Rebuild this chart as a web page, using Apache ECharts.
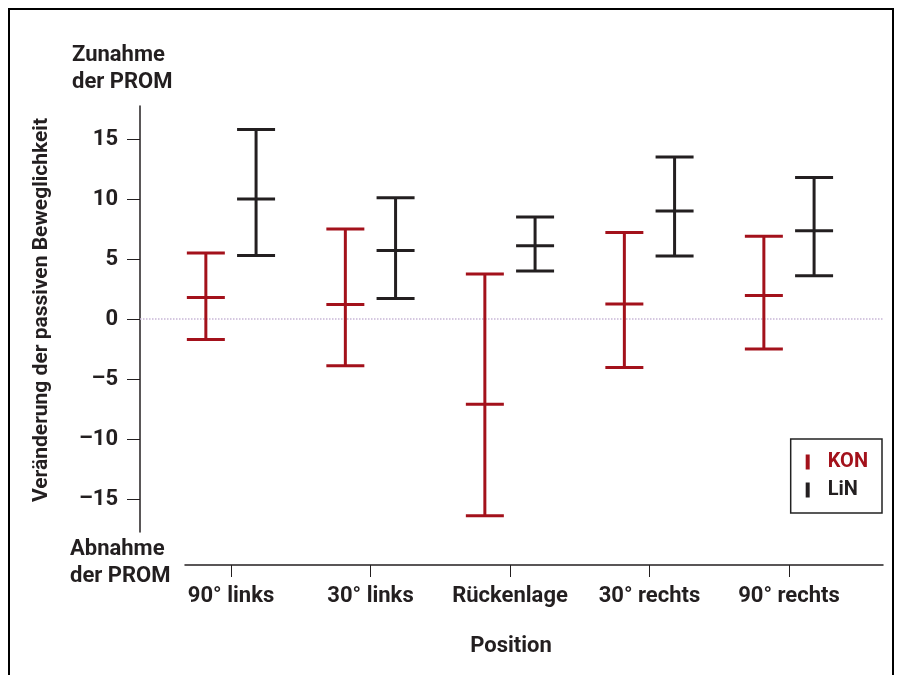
<!DOCTYPE html>
<html>
<head>
<meta charset="utf-8">
<script src="https://cdn.jsdelivr.net/npm/echarts@6/dist/echarts.min.js"></script>
<style>
  html, body { margin: 0; padding: 0; background: #fff; }
  #chart { width: 898px; height: 675px; }
</style>
</head>
<body>
<div id="chart"></div>
<script>
// Data (change of passive range of motion per position)
const positions = ["90° links", "30° links", "Rückenlage", "30° rechts", "90° rechts"];
const konMean = [1.8, 1.2, -7.1, 1.25, 1.95];
const konLow = [-1.7, -3.9, -16.4, -4.05, -2.5];
const konHigh = [5.5, 7.5, 3.75, 7.2, 6.9];
const linMean = [10.0, 5.7, 6.1, 9.0, 7.35];
const linLow = [5.3, 1.7, 4.0, 5.25, 3.6];
const linHigh = [15.8, 10.1, 8.5, 13.5, 11.8];
const yTicks = [-15, -10, -5, 0, 5, 10, 15];

const RED = "#a3111b";
const DARK = "#231f20";
const FONT = "Roboto";
const WEIGHT = "bold";

const chart = echarts.init(document.getElementById("chart"));

// group offset of each series from its category position (axis units)
const SHIFT = 0.18;
const catIdx = positions.map((_, i) => i + 1);

const toBars = (low, mean, high, shift) =>
  catIdx.map((x, i) => [x + shift, low[i], mean[i], high[i]]);

const renderBar = (color) => (params, api) => {
  const x = api.value(0);
  const lo = api.coord([x, api.value(1)]);
  const mid = api.coord([x, api.value(2)]);
  const hi = api.coord([x, api.value(3)]);
  const hw = 19;
  const style = { stroke: color, lineWidth: 3 };
  const seg = (x1, y1, x2, y2) => ({
    type: "line",
    shape: { x1, y1, x2, y2 },
    style,
  });
  return {
    type: "group",
    children: [
      seg(hi[0], hi[1], lo[0], lo[1]),
      seg(hi[0] - hw, hi[1], hi[0] + hw, hi[1]),
      seg(mid[0] - hw, mid[1], mid[0] + hw, mid[1]),
      seg(lo[0] - hw, lo[1], lo[0] + hw, lo[1]),
    ],
  };
};

const textStyle = { fontFamily: FONT, fontWeight: WEIGHT, fontSize: 22, color: DARK };

const option = {
  animation: false,
  backgroundColor: "#fff",
  textStyle: { fontFamily: FONT },
  graphic: [
    {
      type: "rect",
      shape: { x: 9, y: 9, width: 884, height: 700 },
      style: { fill: "none", stroke: "#000", lineWidth: 2 },
    },
    {
      type: "text",
      left: 72,
      top: 42,
      style: { text: "Zunahme\nder PROM", lineHeight: 27, font: WEIGHT + " 22px " + FONT, fill: DARK },
    },
    {
      type: "text",
      left: 70,
      top: 536,
      style: { text: "Abnahme\nder PROM", lineHeight: 27, font: WEIGHT + " 22px " + FONT, fill: DARK },
    },
  ],
  legend: {
    orient: "vertical",
    right: 16,
    top: 439,
    padding: [13, 14, 13, 15],
    borderColor: "#222",
    borderWidth: 1.5,
    borderRadius: 0,
    itemGap: 8,
    icon: "rect",
    itemWidth: 4,
    itemHeight: 15,
    textStyle: { fontFamily: FONT, fontWeight: WEIGHT, fontSize: 20, padding: [0, 0, 0, 13] },
    data: [
      { name: "KON", itemStyle: { color: RED }, textStyle: { color: RED } },
      { name: "LiN", itemStyle: { color: DARK }, textStyle: { color: DARK } },
    ],
  },
  grid: [
    { left: 140, right: 15, top: 106, bottom: 143 },
    { left: 185, right: 15, top: 564, height: 1 },
  ],
  xAxis: [
    {
      gridIndex: 0,
      type: "value",
      min: 0.348,
      max: 5.674,
      show: false,
    },
    {
      gridIndex: 1,
      type: "value",
      min: 0.67,
      max: 5.674,
      position: "bottom",
      axisLine: { show: true, lineStyle: { color: DARK, width: 1.5 } },
      axisTick: { show: true, length: 12, customValues: catIdx, lineStyle: { color: DARK, width: 1 } },
      axisLabel: {
        customValues: catIdx,
        margin: 20,
        formatter: (v) => positions[Math.round(v) - 1] || "",
        ...textStyle,
      },
      splitLine: { show: false },
      name: "Position",
      nameLocation: "middle",
      nameGap: 70,
      nameTextStyle: { ...textStyle, padding: [0, 46, 0, 0] },
    },
  ],
  yAxis: [
    {
      gridIndex: 0,
      type: "value",
      min: -17.75,
      max: 17.75,
      axisLine: { show: true, lineStyle: { color: DARK, width: 1.5 } },
      axisTick: { show: true, length: 13, customValues: yTicks, lineStyle: { color: DARK, width: 1 } },
      axisLabel: {
        customValues: yTicks,
        margin: 22,
        formatter: (v) => (v < 0 ? "\u2013" + Math.abs(v) : String(v)),
        ...textStyle,
      },
      splitLine: { show: false },
      name: "Veränderung der passiven Beweglichkeit",
      nameLocation: "middle",
      nameRotate: 90,
      nameGap: 88,
      nameTextStyle: { ...textStyle, fontSize: 21, padding: [0, 0, 0, 18] },
    },
    {
      gridIndex: 1,
      type: "value",
      show: false,
    },
  ],
  series: [
    {
      name: "KON",
      type: "custom",
      xAxisIndex: 0,
      yAxisIndex: 0,
      itemStyle: { color: RED },
      renderItem: renderBar(RED),
      data: toBars(konLow, konMean, konHigh, -SHIFT),
      z: 3,
      markLine: {
        silent: true,
        symbol: "none",
        label: { show: false },
        lineStyle: { color: "#c7b6d6", type: "dotted", width: 1.5 },
        data: [{ yAxis: 0 }],
        z: 1,
      },
    },
    {
      name: "LiN",
      type: "custom",
      xAxisIndex: 0,
      yAxisIndex: 0,
      itemStyle: { color: DARK },
      renderItem: renderBar(DARK),
      data: toBars(linLow, linMean, linHigh, SHIFT),
      z: 3,
    },
  ],
};

chart.setOption(option);
</script>
</body>
</html>
